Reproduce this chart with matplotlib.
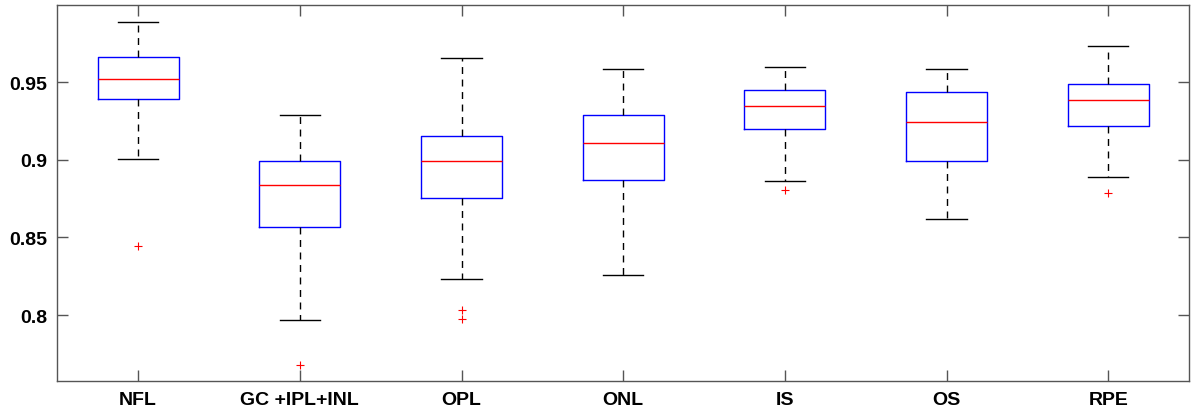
import matplotlib
matplotlib.use('Agg')
import matplotlib.pyplot as plt

plt.rcParams['font.family'] = ['Liberation Sans', 'DejaVu Sans']

labels = ['NFL', 'GC +IPL+INL', 'OPL', 'ONL', 'IS', 'OS', 'RPE']
whislo = [0.9004, 0.7966, 0.8230, 0.8258, 0.8862, 0.8617, 0.8891]
q1 = [0.9394, 0.8569, 0.8754, 0.8868, 0.9199, 0.8995, 0.9220]
med = [0.9521, 0.8836, 0.8993, 0.9107, 0.9347, 0.9246, 0.9388]
q3 = [0.9661, 0.8993, 0.9156, 0.9289, 0.9448, 0.9439, 0.9491]
whishi = [0.9887, 0.9287, 0.9657, 0.9584, 0.9597, 0.9584, 0.9734]
fliers = [[0.8447], [0.7677], [0.8031, 0.7974], [], [0.8808], [], [0.8788]]

stats = []
for i in range(len(labels)):
    stats.append({'label': labels[i], 'whislo': whislo[i], 'q1': q1[i],
                  'med': med[i], 'q3': q3[i], 'whishi': whishi[i],
                  'fliers': fliers[i]})

fig = plt.figure(figsize=(11.99, 4.14), dpi=100)
ax = fig.add_axes([0.0478, 0.0766, 0.9917 - 0.0478, 0.986 - 0.0766])

ax.bxp(stats, positions=range(1, 8), widths=0.5, showfliers=True,
       boxprops=dict(color='blue', linewidth=1.0),
       medianprops=dict(color='red', linewidth=1.0),
       whiskerprops=dict(color='black', linewidth=1.0, linestyle=(0, (5, 4))),
       capprops=dict(color='black', linewidth=1.0),
       flierprops=dict(marker='+', markeredgecolor='red', markersize=6,
                       linestyle='none', markeredgewidth=0.8))

ax.set_xlim(0.5, 7.5)
ax.set_ylim(0.7573, 1.0)
ax.set_yticks([0.8, 0.85, 0.9, 0.95])
ax.set_yticklabels(['0.8', '0.85', '0.9', '0.95'])
ax.set_xticks(range(1, 8))
ax.set_xticklabels(labels)

for s in ax.spines.values():
    s.set_color('#555555')
    s.set_linewidth(1.0)
ax.tick_params(direction='in', length=8, width=1.0, color='#555555',
               top=True, right=True, labelsize=14, pad=7)
for t in ax.get_xticklabels() + ax.get_yticklabels():
    t.set_fontweight('bold')

fig.savefig('out.png', dpi=100)
